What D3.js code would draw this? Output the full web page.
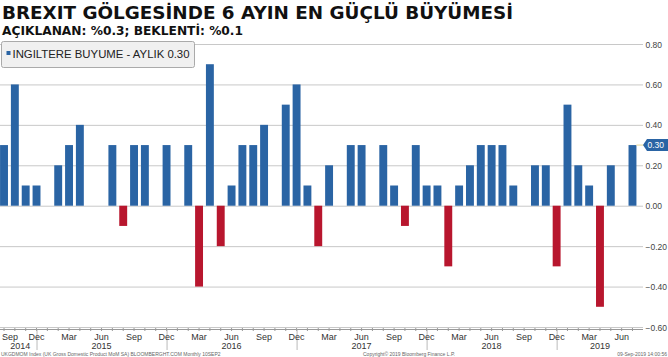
<!DOCTYPE html>
<html><head><meta charset="utf-8">
<script src="https://cdn.jsdelivr.net/npm/d3@7"></script>
<style>
html,body{margin:0;padding:0;background:#fff;}
svg{display:block;}
</style></head>
<body>
<svg id="c" width="668" height="357"></svg>
<script>
const titleText = "BREXIT GÖLGESİNDE 6 AYIN EN GÜÇLÜ BÜYÜMESİ";
const subtitleText = "AÇIKLANAN: %0.3; BEKLENTİ: %0.1";
const legendText = "INGILTERE BUYUME - AYLIK 0.30";
const lastLabel = "0.30";
const startMonth = "2014-09";
const growth = [
  0.3, 0.6, 0.1, 0.1,
  0.0, 0.2, 0.3, 0.4, 0.0, 0.0, 0.3, -0.1, 0.3, 0.3, 0.0, 0.3,
  0.0, 0.3, -0.4, 0.7, -0.2, 0.1, 0.3, 0.3, 0.4, 0.0, 0.5, 0.6,
  0.1, -0.2, 0.2, 0.0, 0.3, 0.3, 0.0, 0.3, 0.1, -0.1, 0.3, 0.1,
  0.1, -0.3, 0.1, 0.2, 0.3, 0.3, 0.3, 0.1, 0.0, 0.2, 0.2, -0.3,
  0.5, 0.2, 0.1, -0.5, 0.2, 0.0, 0.3
];
const yTicks = [0.8, 0.6, 0.4, 0.2, 0.0, -0.2, -0.4, -0.6];
const monthNames = ["Jan","Feb","Mar","Apr","May","Jun","Jul","Aug","Sep","Oct","Nov","Dec"];
const footerLeft = "UKGDMOM Index (UK Gross Domestic Product MoM SA) BLOOMBERGHT.COM  Monthly 10SEP2";
const footerMid = "Copyright© 2019 Bloomberg Finance L.P.";
const footerRight = "09-Sep-2019 14:00:56";

const parse = d3.timeParse("%Y-%m");
const t0 = parse(startMonth);
const months = growth.map((v,i)=>d3.timeMonth.offset(t0,i));
const data = growth.map((v,i)=>({date:months[i], v}));

const svg = d3.select("#c");
const BLUE = "#2a64a4", RED = "#b8162e";
const ff = "Liberation Sans, Arial, sans-serif";

const x = d3.scaleBand().domain(months.map(d=>+d)).range([-1.4, 637.9]).paddingInner(0.27).paddingOuter(0.135);
const y = d3.scaleLinear().domain([-0.6, 0.8]).range([327, 44]);
const cx = d => x(+d) + x.bandwidth()/2;

// gridlines
svg.append("g").selectAll("line").data(yTicks).join("line")
  .attr("x1", 0).attr("x2", 643)
  .attr("y1", d=>y(d)+0.5).attr("y2", d=>y(d)+0.5)
  .attr("stroke", "#c8c8c8").attr("stroke-width", 1);

// y labels
svg.append("g").selectAll("text").data(yTicks).join("text")
  .attr("x", 645.5).attr("y", d=>y(d)+3.5)
  .attr("font-family", ff).attr("font-size", 8.5)
  .attr("fill", "#444").text(d=>d3.format(".2f")(d));

// bars
svg.append("g").selectAll("rect").data(data).join("rect")
  .attr("x", d=>x(+d.date))
  .attr("width", x.bandwidth())
  .attr("y", d=>y(Math.max(0,d.v)))
  .attr("height", d=>Math.abs(y(d.v)-y(0)))
  .attr("fill", d=>d.v<0?RED:BLUE);

// x axis line
const axY = 329.5;
svg.append("line").attr("x1",0).attr("x2",643).attr("y1",axY).attr("y2",axY).attr("stroke","#999");
svg.append("g").selectAll("line").data(months).join("line")
  .attr("x1", d=>cx(d)).attr("x2", d=>cx(d))
  .attr("y1", axY-1.5).attr("y2", axY+1.5).attr("stroke","#999");
// year separators
const decs = months.filter(d=>d.getMonth()===11);
svg.append("g").selectAll("line").data(decs).join("line")
  .attr("x1", d=>cx(d)+0.5).attr("x2", d=>cx(d)+0.5)
  .attr("y1", axY).attr("y2", 350).attr("stroke","#bbb");

// month labels
const quarterMonths = months.filter(d=>[2,5,8,11].includes(d.getMonth()));
svg.append("g").selectAll("text").data(quarterMonths).join("text")
  .attr("x", d=>Math.max(10, cx(d))).attr("y", 340)
  .attr("text-anchor","middle")
  .attr("font-family", ff).attr("font-size", 9)
  .attr("fill", "#333").text(d=>monthNames[d.getMonth()]);

// year labels
const years = d3.groups(months, d=>d.getFullYear()).map(([yr, ms])=>{
  const pos = ms.length===12 ? cx(ms[5]) : (cx(ms[0])+cx(ms[ms.length-1]))/2;
  return {yr, pos};
});
svg.append("g").selectAll("text").data(years).join("text")
  .attr("x", d=>d.pos).attr("y", 349)
  .attr("text-anchor","middle")
  .attr("font-family", ff).attr("font-size", 9)
  .attr("fill", "#333").text(d=>d.yr);

// footers
svg.append("text").attr("x",1).attr("y",355.5).attr("font-family",ff).attr("font-size",5).attr("fill","#666").text(footerLeft);
svg.append("text").attr("x",363).attr("y",355.5).attr("font-family",ff).attr("font-size",5).attr("fill","#666").text(footerMid);
svg.append("text").attr("x",667).attr("y",355.5).attr("text-anchor","end").attr("font-family",ff).attr("font-size",5).attr("fill","#666").text(footerRight);

// title
svg.append("text").attr("x",2).attr("y",18.5)
  .attr("font-family","DejaVu Sans, Verdana, sans-serif").attr("font-weight","bold")
  .attr("font-size",18).attr("fill","#111")
  .attr("textLength",511).attr("lengthAdjust","spacingAndGlyphs").text(titleText);
svg.append("text").attr("x",2).attr("y",34.5)
  .attr("font-family","DejaVu Sans, Verdana, sans-serif").attr("font-weight","bold")
  .attr("font-size",12).attr("fill","#111")
  .attr("textLength",241).attr("lengthAdjust","spacingAndGlyphs").text(subtitleText);

// legend
svg.append("rect").attr("x",1.5).attr("y",41.5).attr("width",193).attr("height",26).attr("rx",2)
  .attr("fill","#f0f0f0").attr("stroke","#aaa");
svg.append("rect").attr("x",6.5).attr("y",51).attr("width",4).attr("height",4).attr("fill",BLUE);
svg.append("text").attr("x",12.5).attr("y",58)
  .attr("font-family",ff).attr("font-size",11).attr("fill","#222")
  .attr("textLength",177).attr("lengthAdjust","spacingAndGlyphs").text(legendText);

// last value tag
const last = data[data.length-1];
const ty = y(last.v);
svg.append("line").attr("x1", x(+last.date)+x.bandwidth()).attr("x2", 644)
  .attr("y1", ty).attr("y2", ty).attr("stroke","#e8d890").attr("stroke-width",1);
svg.append("path")
  .attr("d", `M643,${ty} L647,${ty-6} L668,${ty-6} L668,${ty+6} L647,${ty+6} Z`)
  .attr("fill", BLUE);
svg.append("text").attr("x",647.5).attr("y",ty+3.3)
  .attr("font-family",ff).attr("font-size",8.5).attr("fill","#fff").text(lastLabel);
</script>
</body></html>
